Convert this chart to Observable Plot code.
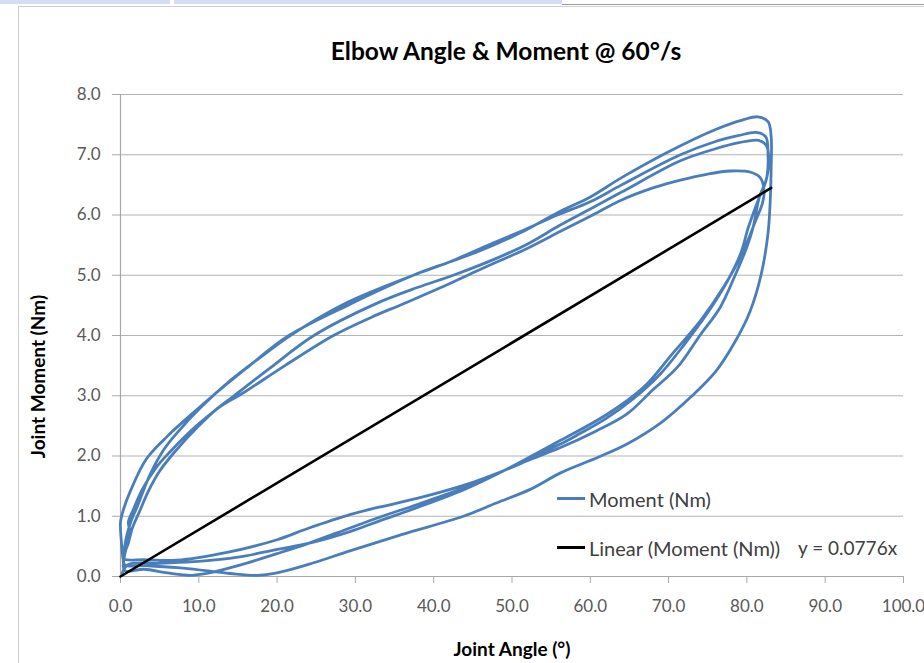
<!DOCTYPE html>
<html>
<head>
<meta charset="utf-8">
<script src="https://cdn.jsdelivr.net/npm/d3@7"></script>
<script src="https://cdn.jsdelivr.net/npm/@observablehq/plot@0.6"></script>
<style>
  body { margin: 0; background: #fff; font-family: Lato, "Open Sans", sans-serif; }
  #wrap { position: relative; width: 924px; height: 663px; overflow: hidden; background: #fff; }
  .bar { position: absolute; top: 0; height: 4px; background: #d3dff0; }
  #topline { position: absolute; left: 562px; top: 4px; width: 362px; height: 1px; background: #9a9a9a; }
  #frame { position: absolute; left: 18px; top: 6px; width: 920px; height: 700px; border-left: 1px solid #d0d0d0; border-top: 1px solid #d0d0d0; }
  #title { position: absolute; left: 256px; width: 500px; top: 36px; text-align: center; font-weight: 700; font-size: 24.5px; color: #000; }
  #chart { position: absolute; left: 0; top: 75px; }
  .leg { position: absolute; font-size: 20px; color: #404040; line-height: 1; white-space: nowrap; }
  .sw { position: absolute; width: 28px; height: 3px; }
</style>
</head>
<body>
<div id="wrap">
  <div class="bar" style="left:0;width:170px"></div>
  <div class="bar" style="left:174px;width:388px"></div>
  <div id="topline"></div>
  <div id="frame"></div>
  <div id="title">Elbow Angle &amp; Moment @ 60°/s</div>
  <div id="chart"></div>
  <div class="sw" style="left:557px;top:497px;background:#4a7ebb"></div>
  <div class="leg" style="left:589px;top:489px">Moment (Nm)</div>
  <div class="sw" style="left:557px;top:546px;background:#000"></div>
  <div class="leg" style="left:589px;top:538px">Linear (Moment (Nm))</div>
  <div class="leg" style="left:798px;top:538px;font-size:19px">y = 0.0776x</div>
</div>
<script>
// Tick values
const xTicks = [0, 10, 20, 30, 40, 50, 60, 70, 80, 90, 100];
const yTicks = [0, 1, 2, 3, 4, 5, 6, 7, 8];

// Linear trendline (through origin)
const trendSlope = 0.0776;
const trendAngles = [0, 83.1];

// Moment (Nm) vs Joint Angle (deg) — four consecutive loading/unloading cycles, [angle, moment]
const cycle1 = [
  [0.3,0.3],[0.1,0.6],[0.0,0.9],[0.4,1.12],[1.3,1.43],[3.3,1.95],[6.0,2.33],[8.0,2.57],[10.2,2.82],[11.6,2.98],[16.0,3.45],
  [21.5,4.0],[29.0,4.5],[37.4,5.0],[42.0,5.22],[46.0,5.41],[51.0,5.7],[56.0,6.05],[60.0,6.3],[64.0,6.62],[70.0,7.05],
  [76.0,7.42],[79.5,7.58],[81.4,7.63],[82.7,7.55],[83.1,7.3],[83.1,6.8],[83.0,6.3],[82.7,5.7],[81.8,5.0],[80.4,4.4],
  [78.5,3.9],[76.0,3.4],[73.0,3.0],[69.0,2.55],[64.7,2.2],[61.0,1.98],[56.2,1.72],[52.4,1.45],[48.0,1.22],[43.8,1.0],
  [36.0,0.7],[29.4,0.43],[24.0,0.2],[20.0,0.06],[17.5,0.02],[14.0,0.05],[8.0,0.14],[3.0,0.18],[0.5,0.2]
];
const cycle2 = [
  [0.6,0.55],[1.3,0.9],[2.1,1.15],[3.8,1.7],[5.5,2.1],[7.2,2.38],[10.2,2.8],[14.0,3.25],[18.0,3.65],[21.7,4.0],
  [29.0,4.55],[37.4,5.0],[42.0,5.22],[47.3,5.52],[51.0,5.72],[55.8,6.0],[60.0,6.22],[64.0,6.5],[71.5,7.0],[76.0,7.22],
  [79.0,7.32],[81.2,7.37],[82.4,7.3],[82.7,7.0],[82.5,6.6],[81.6,6.3],[80.8,5.8],[80.0,5.47],[78.5,5.0],[76.6,4.47],
  [74.0,4.0],[71.1,3.47],[68.0,3.1],[64.7,2.7],[60.5,2.4],[56.2,2.14],[52.5,1.95],[49.0,1.76],[44.0,1.52],[38.0,1.3],
  [33.0,1.15],[29.4,1.03],[24.0,0.8],[20.0,0.61],[13.6,0.4],[7.2,0.27],[3.0,0.28],[0.4,0.3]
];
const cycle3 = [
  [0.9,0.6],[1.2,0.75],[1.0,0.9],[1.6,1.1],[2.8,1.45],[4.5,1.8],[6.4,2.08],[9.0,2.42],[12.0,2.75],[14.5,3.0],
  [19.0,3.45],[24.7,4.0],[33.0,4.55],[38.0,4.8],[42.5,5.0],[48.0,5.28],[52.0,5.52],[56.0,5.82],[60.0,6.1],[64.0,6.38],
  [71.5,6.9],[76.0,7.1],[79.0,7.2],[81.5,7.24],[82.5,7.15],[82.8,6.9],[82.4,6.55],[81.6,6.3],[80.2,5.8],[79.2,5.36],
  [77.5,4.9],[74.9,4.36],[72.0,3.85],[69.0,3.37],[65.5,2.95],[62.0,2.62],[58.5,2.36],[56.2,2.2],[52.5,1.98],[49.0,1.76],
  [44.0,1.48],[38.0,1.2],[33.0,0.98],[29.4,0.81],[24.0,0.55],[20.0,0.38],[15.0,0.18],[11.0,0.05],[9.0,0.02],[6.0,0.06],
  [3.0,0.12],[0.5,0.1]
];
const cycle4 = [
  [0.6,0.4],[1.0,0.55],[1.5,0.8],[2.5,1.1],[3.5,1.4],[5.0,1.75],[6.8,2.05],[10.0,2.5],[12.5,2.8],[15.7,3.05],
  [21.0,3.5],[27.2,4.0],[32.0,4.3],[36.0,4.52],[41.0,4.8],[46.0,5.1],[52.0,5.45],[56.2,5.73],[60.0,5.98],[64.0,6.25],
  [68.0,6.45],[71.5,6.58],[75.0,6.68],[77.9,6.73],[80.5,6.71],[81.7,6.62],[82.2,6.4],[82.0,6.2],[81.1,5.9],[79.4,5.36],
  [77.0,4.8],[74.1,4.25],[70.5,3.7],[66.8,3.14],[62.0,2.68],[56.2,2.26],[52.5,2.0],[49.0,1.76],[44.0,1.45],[38.0,1.15],
  [33.0,0.92],[29.4,0.75],[24.0,0.55],[20.0,0.45],[15.0,0.32],[10.0,0.25],[5.0,0.22],[1.0,0.2],[0.2,0.05]
];

const moment = [cycle1, cycle2, cycle3, cycle4].flat().map(([angle, m]) => ({angle, moment: m}));
const trend = trendAngles.map(a => ({angle: a, moment: trendSlope * a}));

const fmt = d => d.toFixed(1);

const chart = Plot.plot({
  width: 924,
  height: 588,
  marginLeft: 120,
  marginRight: 21,
  marginTop: 19,
  marginBottom: 87,
  style: { fontFamily: "Lato, 'Open Sans', sans-serif", fontSize: "17px", color: "#595959", overflow: "visible", background: "transparent" },
  x: { domain: [0, 100] },
  y: { domain: [0, 8] },
  marks: [
    Plot.gridY(yTicks, { stroke: "#b3b3b3", strokeOpacity: 1, strokeWidth: 1.2 }),
    Plot.axisY(yTicks, { tickFormat: fmt, tickSize: 8, tickPadding: 12, stroke: "#a8a8a8", label: null, fill: "#595959" }),
    Plot.axisX(xTicks, { tickFormat: fmt, tickSize: 7, tickPadding: 16, stroke: "#a8a8a8", label: null, fill: "#595959" }),
    Plot.ruleX([0], { stroke: "#a8a8a8", strokeWidth: 1.2 }),
    Plot.ruleY([0], { stroke: "#a8a8a8", strokeWidth: 1.2 }),
    Plot.line(moment, { x: "angle", y: "moment", stroke: "#4a7ebb", strokeWidth: 2.8, curve: "catmull-rom" }),
    Plot.line(trend, { x: "angle", y: "moment", stroke: "#000", strokeWidth: 2.6 }),
    Plot.text(["Joint Angle (°)"], { frameAnchor: "bottom", dy: 79, fontWeight: "bold", fontSize: 19, fill: "#000" }),
    Plot.text(["Joint Moment (Nm)"], { frameAnchor: "left", textAnchor: "middle", rotate: -90, dx: -82, dy: 41, fontWeight: "bold", fontSize: 19, fill: "#000" })
  ]
});
document.getElementById("chart").appendChild(chart);
</script>
</body>
</html>
